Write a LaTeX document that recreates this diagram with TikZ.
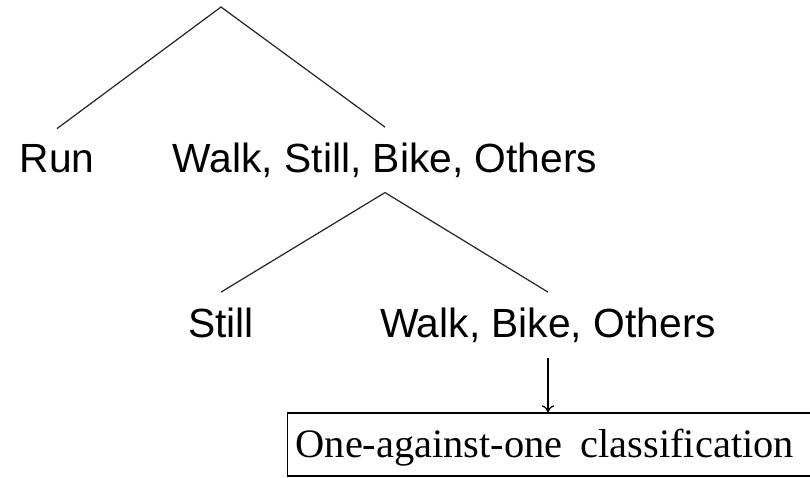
\documentclass[tikz,border=0pt]{standalone}
\usepackage{fontspec}
\setmainfont{Liberation Serif}
\setsansfont{Liberation Sans}
\usetikzlibrary{arrows.meta}
\tikzset{
    branch/.style={line width=0.7pt, draw=black!85},
    leaf/.style={font=\sffamily\fontsize{23.2}{27}\selectfont,
                 inner xsep=2pt, inner ysep=0.3cm, anchor=base},
    box/.style={draw, line width=0.7pt, anchor=west, inner xsep=0.16cm,
                text width=10.7cm, align=left, minimum height=1.26cm,
                text height=0.6cm, text depth=0.1cm,
                font=\rmfamily\fontsize{23}{27}\selectfont},
    flow/.style={-{To[length=4pt, width=7pt]}, line width=0.7pt},
}

\begin{document}
\begin{tikzpicture}[x=0.02cm, y=-0.02cm]
    \useasboundingbox (0,0) rectangle (810,477);

    % first split
    \coordinate (root) at (221,7);
    \node[leaf] (run) at (57,172) {Run};
    \node[leaf] (wsbo) at (385,172) {Walk, Still, Bike, Others};
    \draw[branch] (run.north) -- (root) -- (wsbo.north);

    % second split
    \node[leaf] (still) at (221,337) {Still};
    \node[leaf] (wbo) at (548,337) {Walk, Bike, Others};
    \draw[branch] (still.north) -- (wsbo.south) -- (wbo.north);

    \node[box] (ovo) at (287,444.5) {One-against-one\hspace{0.36cm}classification};
    \draw[flow] (wbo.south) -- (wbo.south |- ovo.north);
\end{tikzpicture}
\end{document}
